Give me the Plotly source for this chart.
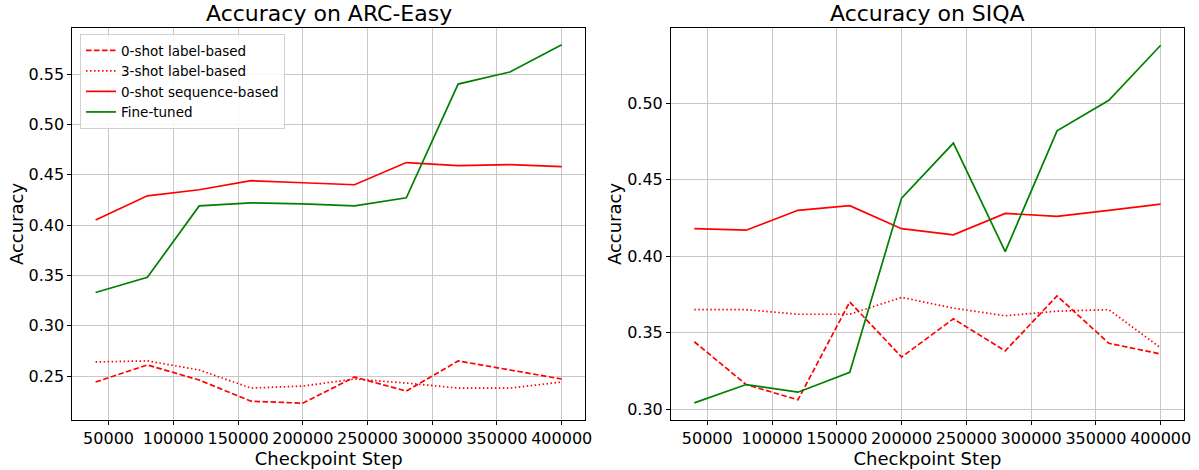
import plotly.graph_objects as go

steps = [40000, 80000, 120000, 160000, 200000, 240000, 280000, 320000, 360000, 400000]
x_ticks = [50000, 100000, 150000, 200000, 250000, 300000, 350000, 400000]
x_ticklabels = [str(v) for v in x_ticks]

series_names = ["0-shot label-based", "3-shot label-based", "0-shot sequence-based", "Fine-tuned"]

arc_zero_label = [0.244, 0.261, 0.246, 0.225, 0.223, 0.249, 0.235, 0.265, 0.256, 0.247]
arc_three_label = [0.264, 0.265, 0.256, 0.238, 0.240, 0.247, 0.243, 0.238, 0.238, 0.244]
arc_zero_seq = [0.405, 0.429, 0.435, 0.444, 0.442, 0.440, 0.462, 0.459, 0.460, 0.458]
arc_finetuned = [0.333, 0.348, 0.419, 0.422, 0.421, 0.419, 0.427, 0.540, 0.552, 0.579]

siqa_zero_label = [0.344, 0.316, 0.306, 0.370, 0.334, 0.359, 0.338, 0.374, 0.343, 0.336]
siqa_three_label = [0.365, 0.365, 0.362, 0.362, 0.373, 0.366, 0.361, 0.364, 0.365, 0.340]
siqa_zero_seq = [0.418, 0.417, 0.430, 0.433, 0.418, 0.414, 0.428, 0.426, 0.430, 0.434]
siqa_finetuned = [0.304, 0.316, 0.311, 0.324, 0.438, 0.474, 0.403, 0.482, 0.502, 0.538]

arc_yticks = [0.25, 0.30, 0.35, 0.40, 0.45, 0.50, 0.55]
siqa_yticks = [0.30, 0.35, 0.40, 0.45, 0.50]

titles = ["Accuracy on ARC-Easy", "Accuracy on SIQA"]

styles = [
    dict(color="#ff0000", dash="5.5px,2.5px"),
    dict(color="#ff0000", dash="1.5px,2.5px"),
    dict(color="#ff0000", dash="solid"),
    dict(color="#008000", dash="solid"),
]

FONT = "DejaVu Sans"
fig = go.Figure()

panels = [
    ([arc_zero_label, arc_three_label, arc_zero_seq, arc_finetuned], "x", "y", True),
    ([siqa_zero_label, siqa_three_label, siqa_zero_seq, siqa_finetuned], "x2", "y2", False),
]
for data, xa, ya, show in panels:
    for name, vals, st in zip(series_names, data, styles):
        fig.add_trace(go.Scatter(
            x=steps, y=vals, mode="lines", name=name,
            line=dict(color=st["color"], dash=st["dash"], width=1.7),
            xaxis=xa, yaxis=ya, showlegend=show,
        ))

axis_common = dict(
    showline=True, linecolor="black", linewidth=1, mirror=True,
    ticks="outside", ticklen=4, tickcolor="black", tickwidth=1,
    showgrid=True, gridcolor="#c8c8c8", gridwidth=1, zeroline=False,
    tickfont=dict(family=FONT, size=16, color="black"), automargin=False,
)

x_dom_left = [72.3 / 1199, 585 / 1199]
x_dom_right = [671 / 1199, 1184 / 1199]
y_dom = [1 - 420 / 470, 1 - 28 / 470]

title_font = dict(family=FONT, size=18)

fig.update_layout(
    width=1199, height=470,
    margin=dict(l=0, r=0, t=0, b=0),
    paper_bgcolor="white", plot_bgcolor="white",
    font=dict(family=FONT, color="black"),
    xaxis=dict(domain=x_dom_left, range=[22000, 418000], tickvals=x_ticks, ticktext=x_ticklabels,
               title=dict(text="Checkpoint Step", font=title_font, standoff=0),
               anchor="y", **axis_common),
    yaxis=dict(domain=y_dom, range=[0.2063, 0.5957], tickvals=arc_yticks,
               ticktext=[f"{v:.2f}" for v in arc_yticks],
               title=dict(text="Accuracy", font=title_font, standoff=0),
               anchor="x", **axis_common),
    xaxis2=dict(domain=x_dom_right, range=[22000, 418000], tickvals=x_ticks, ticktext=x_ticklabels,
                title=dict(text="Checkpoint Step", font=title_font, standoff=0),
                anchor="y2", **axis_common),
    yaxis2=dict(domain=y_dom, range=[0.2928, 0.5493], tickvals=siqa_yticks,
                ticktext=[f"{v:.2f}" for v in siqa_yticks],
                title=dict(text="Accuracy", font=title_font, standoff=0),
                anchor="x2", **axis_common),
    legend=dict(x=80 / 1199, y=1 - 34 / 470, xanchor="left", yanchor="top",
                bgcolor="rgba(255,255,255,0.85)", bordercolor="#d0d0d0", borderwidth=1,
                font=dict(family=FONT, size=13.5), itemwidth=30, tracegroupgap=0),
)

for title, dom in zip(titles, [x_dom_left, x_dom_right]):
    fig.add_annotation(text=title, x=(dom[0] + dom[1]) / 2, y=y_dom[1], xref="paper", yref="paper",
                       xanchor="center", yanchor="bottom", yshift=0, showarrow=False,
                       font=dict(family=FONT, size=22, color="black"))

fig.write_html("out.html", config={"displayModeBar": False},
               post_script="document.body.style.margin='0';document.body.style.padding='0';")
